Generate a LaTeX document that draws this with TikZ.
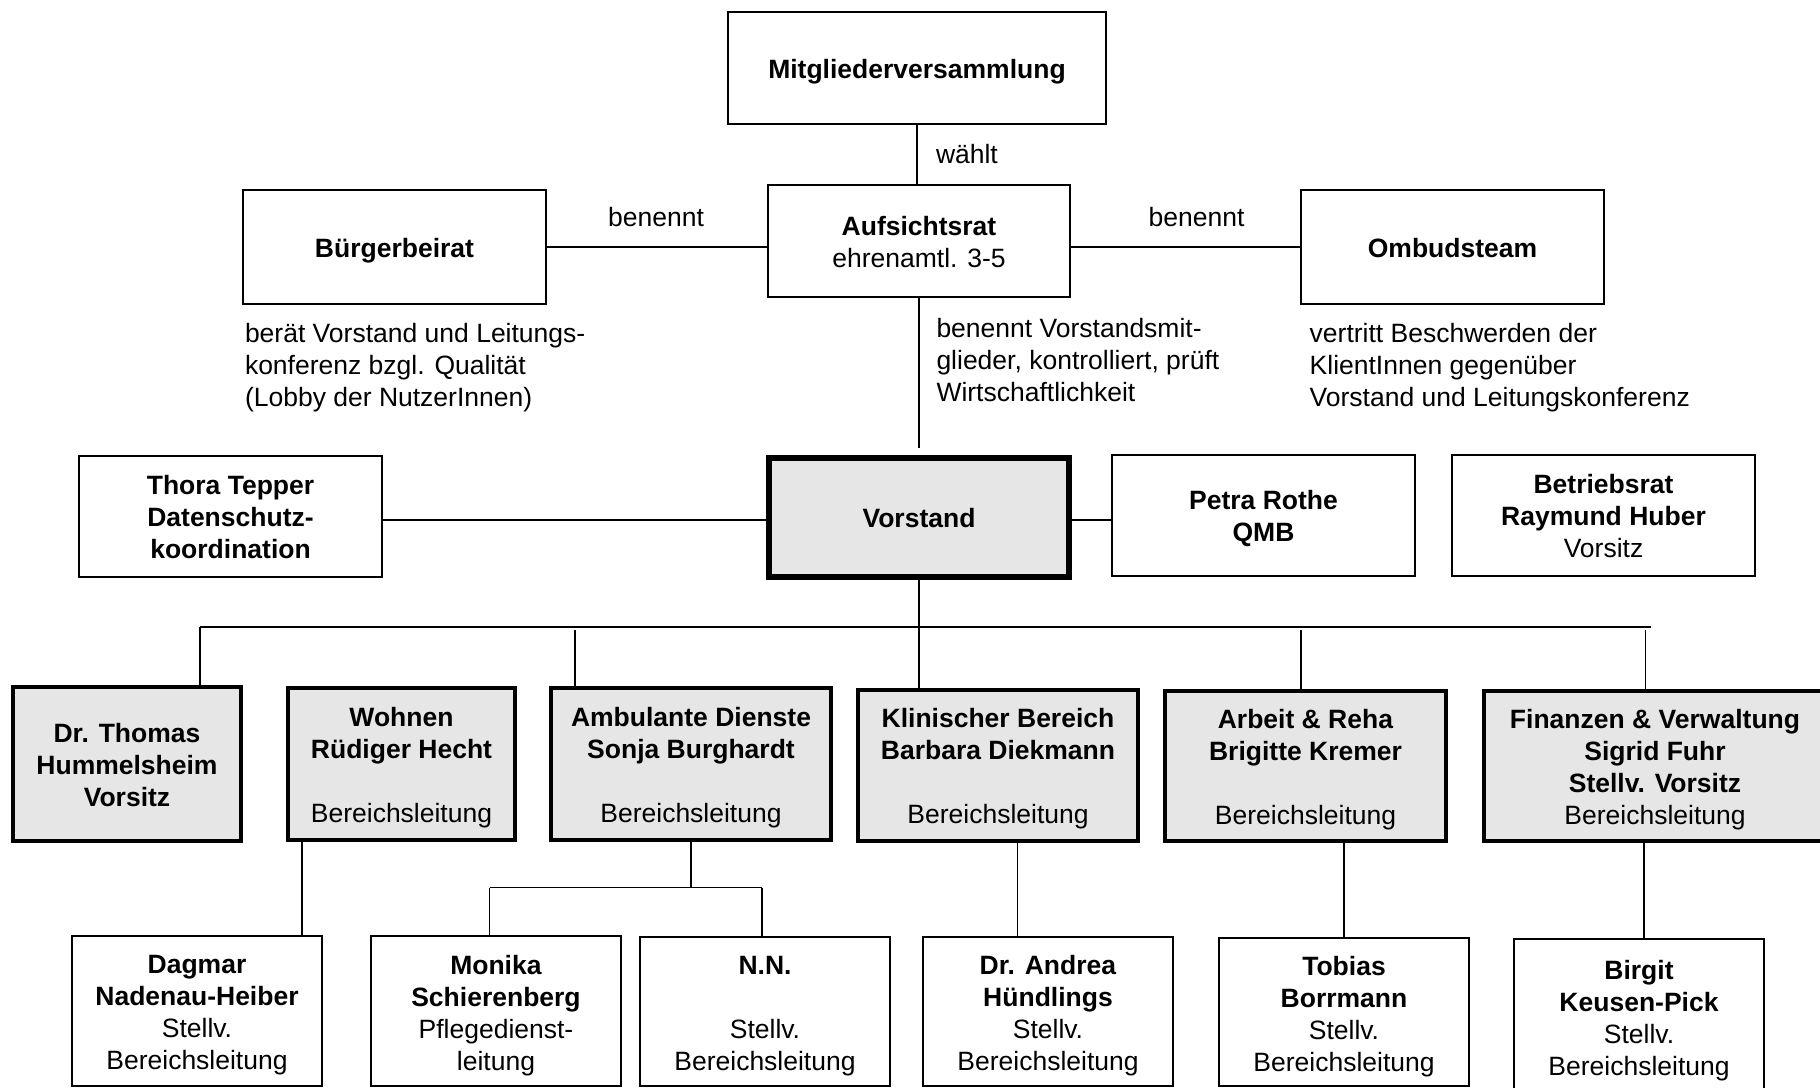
\documentclass[tikz,border=0pt]{standalone}
\usepackage{fontspec}
\setmainfont{Liberation Sans}
\definecolor{boxgray}{HTML}{E6E6E6}
\newcommand\fs{\fontsize{13.25}{16}\selectfont}
\def\txs{-1.75pt}
\newcommand\bx[7]{%
  \pgfmathsetmacro\bxw{(#5-#3)*0.5}%
  \pgfmathsetmacro\bxh{(#6-#4)*0.5}%
  \node[#2, minimum width=\bxw pt, minimum height=\bxh pt] (#1) at ({(#3+#5)/2},{(#4+#6)/2}) {};
  \node[base] (#1-t) at ([yshift=\txs]#1.center) {#7};}
\tikzset{
  base/.style={font=\fs, align=center, inner sep=0pt, outer sep=0pt},
  thinbox/.style={base, draw, line width=0.85pt, fill=white},
  medbox/.style={base, draw, line width=1.75pt, fill=boxgray},
  thickbox/.style={base, draw, line width=2.2pt, fill=boxgray},
  vbox/.style={base, draw, line width=2.7pt, fill=boxgray},
  conn/.style={line width=0.85pt},
  lbl/.style={font=\fs, inner sep=0pt, outer sep=0pt, align=left},
}
\begin{document}
\begin{tikzpicture}[x=0.5pt, y=-0.5pt]
\useasboundingbox (0,0) rectangle (1820,1087);
\fill[white] (0,0) rectangle (1820,1087);
\clip (0,0) rectangle (1820,1087);

% top
\bx{mv}{thinbox}{728}{12}{1106}{124}{\textbf{Mitgliederversammlung}}
\bx{bb}{thinbox}{243}{190}{546}{304}{\textbf{Bürgerbeirat}}
\def\txs{-0.5pt}
\bx{ar}{thinbox}{768}{185}{1070}{297}{\textbf{Aufsichtsrat}\\ehrenamtl. 3-5}
\bx{om}{thinbox}{1301}{190}{1604}{304}{\textbf{Ombudsteam}}

\node[lbl, anchor=west] (lw) at (936,154) {wählt};
\node[lbl] (lb1) at (656,217) {benennt};
\node[lbl] (lb2) at (1196.5,217) {benennt};

\node[lbl, anchor=west] (nbb) at (245,367.5) {berät Vorstand und Leitungs-\\konferenz bzgl. Qualität\\(Lobby der NutzerInnen)};
\node[lbl, anchor=west] (nar) at (936.5,360.5) {benennt Vorstandsmit-\\glieder, kontrolliert, prüft\\Wirtschaftlichkeit};
\node[lbl, anchor=west] (nom) at (1309.7,368) {vertritt Beschwerden der\\KlientInnen gegenüber\\Vorstand und Leitungskonferenz};

% row 1
\bx{tt}{thinbox}{79}{456}{382}{577}{\textbf{Thora Tepper}\\\textbf{Datenschutz-}\\\textbf{koordination}}
\bx{vo}{vbox}{769}{458}{1069}{577}{\textbf{Vorstand}}
\bx{br}{thinbox}{1452}{455}{1755}{576}{\textbf{Betriebsrat}\\\textbf{Raymund Huber}\\Vorsitz}
\def\txs{-1.5pt}
\bx{pr}{thinbox}{1112}{455}{1415}{576}{\textbf{Petra Rothe}\\\textbf{QMB}}

% row 2
\def\txs{-0.5pt}
\bx{th}{medbox}{13}{687}{241}{841}{\textbf{Dr. Thomas}\\\textbf{Hummelsheim}\\\textbf{Vorsitz}}
\def\txs{-1.75pt}
\bx{wo}{medbox}{288}{688}{515}{840}{\textbf{Wohnen}\\\textbf{Rüdiger Hecht}\\[16pt]Bereichsleitung}
\bx{am}{thickbox}{551}{688}{831}{840}{\textbf{Ambulante Dienste}\\\textbf{Sonja Burghardt}\\[16pt]Bereichsleitung}
\bx{kl}{thickbox}{858}{690}{1138}{841}{\textbf{Klinischer Bereich}\\\textbf{Barbara Diekmann}\\[16pt]Bereichsleitung}
\bx{ab}{thickbox}{1165}{691}{1446}{841}{\textbf{Arbeit \& Reha}\\\textbf{Brigitte Kremer}\\[16pt]Bereichsleitung}
\bx{fi}{thickbox}{1484}{691}{1826}{841}{\textbf{Finanzen \& Verwaltung}\\\textbf{Sigrid Fuhr}\\\textbf{Stellv. Vorsitz}\\Bereichsleitung}

% row 3
\def\txs{-2.25pt}
\bx{da}{thinbox}{72}{936}{322}{1086}{\textbf{Dagmar}\\\textbf{Nadenau-Heiber}\\Stellv.\\Bereichsleitung}
\bx{mo}{thinbox}{371}{936}{621}{1086}{\textbf{Monika}\\\textbf{Schierenberg}\\Pflegedienst-\\leitung}
\bx{nn}{thinbox}{640}{937}{890}{1086}{\textbf{N.N.}\\[16pt]Stellv.\\Bereichsleitung}
\bx{hu}{thinbox}{923}{937}{1173}{1086}{\textbf{Dr. Andrea}\\\textbf{Hündlings}\\Stellv.\\Bereichsleitung}
\bx{bo}{thinbox}{1219}{938}{1469}{1086}{\textbf{Tobias}\\\textbf{Borrmann}\\Stellv.\\Bereichsleitung}
\def\txs{-1.75pt}
\bx{ke}{thinbox}{1514}{939}{1764}{1095}{\textbf{Birgit}\\\textbf{Keusen-Pick}\\Stellv.\\Bereichsleitung}

% connectors top
\draw[conn] (mv.south) -- (mv.south |- ar.north);
\draw[conn] (bb.east) -- (bb.east -| ar.west);
\draw[conn] (om.west -| ar.east) -- (om.west);
\coordinate (arEnd) at (919,448);
\draw[conn] (ar.south) -- (arEnd);
\coordinate (ty) at (0,520);
\draw[conn] (tt.east |- ty) -- (vo.west |- ty);
\draw[conn] (vo.east |- ty) -- (pr.west |- ty);

% bus
\coordinate (busL) at (200,627);
\coordinate (busR) at (1651,627);
\draw[conn] (busL) -- (busR);
\draw[conn] (vo.south) -- (vo.south |- kl.north);
\coordinate (d1) at (200,627);
\coordinate (d2) at (575,630);
\coordinate (d4) at (1301,630);
\coordinate (d5) at (1645.5,630);
\draw[conn] (d1) -- (d1 |- th.north);
\draw[conn] (d2) -- (d2 |- am.north);
\draw[conn] (d4) -- (d4 |- ab.north);
\draw[conn] (d5) -- (d5 |- fi.north);

% lower connectors
\coordinate (w1) at (302,0);
\draw[conn] (w1 |- wo.south) -- (w1 |- da.north);
\coordinate (amb) at (691,887.6);
\draw[conn] (am.south) -- (am.south |- amb);
\coordinate (abL) at (489.6,887.6);
\coordinate (abR) at (762,887.6);
\draw[conn] (abL) -- (abR);
\draw[conn] (abL) -- (abL |- mo.north);
\draw[conn] (abR) -- (abR |- nn.north);
\coordinate (k1) at (1017.4,0);
\draw[conn] (k1 |- kl.south) -- (k1 |- hu.north);
\coordinate (a1) at (1343.8,0);
\draw[conn] (a1 |- ab.south) -- (a1 |- bo.north);
\coordinate (f1) at (1643.7,0);
\draw[conn] (f1 |- fi.south) -- (f1 |- ke.north);
\end{tikzpicture}
\end{document}
